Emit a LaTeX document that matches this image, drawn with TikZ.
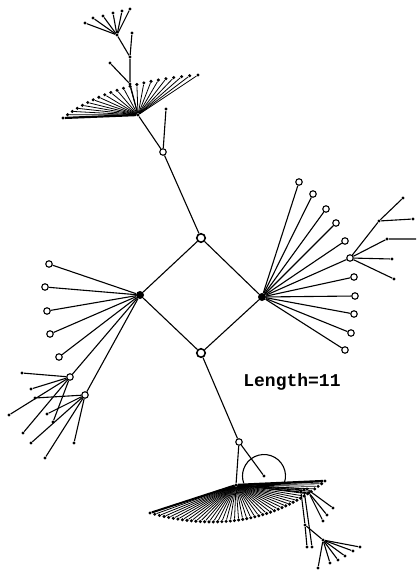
\documentclass[tikz,border=0pt]{standalone}
\usepackage{fontspec}
\setmonofont{Liberation Mono}
\tikzset{
  edge/.style={line width=1.1pt},
  fan/.style={line width=.8pt},
  leaf/.style={circle,fill,inner sep=0pt,minimum size=3.4pt},
  ring/.style={circle,draw,fill=white,line width=1.1pt,inner sep=0pt,minimum size=6.5pt,
    path picture={\fill (path picture bounding box.center) circle (1.2pt);}},
  bigring/.style={ring,minimum size=8.5pt,line width=1.6pt},
  hub/.style={circle,fill,inner sep=0pt,minimum size=8pt},
}

\begin{document}
\begin{tikzpicture}[x=1pt,y=-1pt]
  \useasboundingbox (0,0) rectangle (416,570);

  % square in the middle
  \node[bigring] (top) at (201,238) {};
  \node[bigring] (bot) at (201,353) {};
  \node[hub] (lh) at (140,295) {};
  \node[hub] (rh) at (262,297) {};
  \draw[edge] (top) -- (lh) -- (bot) -- (rh) -- (top);

  % upper tree
  \node[ring] (c1) at (163,152) {};
  \node[leaf] (h1) at (138,115) {};
  \node[leaf] (c1a) at (166,109) {};
  \draw[edge] (top) -- (c1) -- (h1);
  \draw[edge] (c1) -- (c1a);
  \foreach \i in {0,...,21}{
    \pgfmathsetmacro\t{\i/21}
    \pgfmathsetmacro\px{(1-\t)^2*63+2*(1-\t)*\t*110+\t^2*198}
    \pgfmathsetmacro\py{(1-\t)^2*118+2*(1-\t)*\t*82+\t^2*75}
    \node[leaf] (ta\i) at (\px,\py) {};
    \draw[fan] (h1) -- (ta\i);
  }
  \draw[line width=2.2pt] (h1) -- (ta0);
  \node[leaf] (s1) at (130,84) {};
  \node[leaf] (s1a) at (110,63) {};
  \node[leaf] (s2) at (130,57) {};
  \node[leaf] (s2a) at (132,33) {};
  \node[leaf] (h2) at (117,35) {};
  \draw[edge] (h1) -- (s1) -- (s2) -- (h2);
  \draw[edge] (s1) -- (s1a);
  \draw[edge] (s2) -- (s2a);
  \foreach \x/\y [count=\k] in {85/23,93/18,103/16,113/13,122/11,130/9}{
    \node[leaf] (tb\k) at (\x,\y) {};
    \draw[edge] (h2) -- (tb\k);
  }

  % right hub
  \foreach \x/\y [count=\k] in {299/182,313/194,326/209,336/223,345/241,
      354/277,355/296,354/314,351/333,345/350}{
    \node[ring] (rr\k) at (\x,\y) {};
    \draw[edge] (rh) -- (rr\k);
  }
  \node[ring] (rs) at (350,258) {};
  \node[leaf] (n1) at (379,221) {};
  \node[leaf] (n2) at (387,239) {};
  \node[leaf] (n3) at (392,259) {};
  \node[leaf] (n4) at (394,279) {};
  \node[leaf] (n1a) at (403,198) {};
  \node[leaf] (n1b) at (413,219) {};
  \coordinate (n2a) at (416,239);
  \draw[edge] (rh) -- (rs);
  \draw[edge] (rs) -- (n1) -- (n1a);
  \draw[edge] (n1) -- (n1b);
  \draw[edge] (rs) -- (n2) -- (n2a);
  \draw[edge] (rs) -- (n3);
  \draw[edge] (rs) -- (n4);

  % left hub
  \foreach \x/\y [count=\k] in {49/264,45/287,47/311,50/334,59/357}{
    \node[ring] (lr\k) at (\x,\y) {};
    \draw[edge] (lh) -- (lr\k);
  }
  \node[ring] (la) at (70,377) {};
  \node[ring] (lb) at (85,395) {};
  \draw[edge] (lh) -- (la);
  \draw[edge] (lh) -- (lb);
  \foreach \x/\y [count=\k] in {22/373,31/389,9/415,53/422,23/433}{
    \node[leaf] (la\k) at (\x,\y) {};
    \draw[edge] (la) -- (la\k);
  }
  \foreach \x/\y [count=\k] in {35/398,47/414,31/443,74/443,45/458}{
    \node[leaf] (lb\k) at (\x,\y) {};
    \draw[edge] (lb) -- (lb\k);
  }

  % lower tree
  \node[ring] (c2) at (239,442) {};
  \node[leaf] (h3) at (236,485) {};
  \node[leaf] (dd) at (264,476) {};
  \draw[edge] (bot) -- (c2) -- (h3);
  \draw[edge] (c2) -- (dd);
  \draw[edge] ([shift={(-19:21.5pt)}]dd.center) arc[start angle=-19,end angle=199,radius=21.5pt];
  \foreach \i in {0,...,43}{
    \pgfmathsetmacro\t{\i/43}
    \pgfmathsetmacro\px{(1-\t)^2*150+2*(1-\t)*\t*252+\t^2*325}
    \pgfmathsetmacro\py{(1-\t)^2*513+2*(1-\t)*\t*541+\t^2*481}
    \node[leaf] (ba\i) at (\px,\py) {};
    \draw[fan] (h3) -- (ba\i);
  }
  \draw[line width=2.4pt] (h3) -- (ba43);
  \draw[line width=2pt] (h3) -- (ba0);

  % chains below the lower fan
  \node[leaf] (q1) at (301,492) {};
  \node[leaf] (q2) at (304,490) {};
  \node[leaf] (q3) at (307,489) {};
  \node[leaf] (q4) at (309,493) {};
  \node[leaf] (p1) at (305,525) {};
  \node[leaf] (p1a) at (307,547) {};
  \node[leaf] (q2a) at (312,547) {};
  \node[leaf] (q3a) at (333,508) {};
  \node[leaf] (q4a) at (327,515) {};
  \node[leaf] (q4b) at (323,521) {};
  \node[leaf] (p2) at (323,540) {};
  \foreach \q in {q1,q2,q3,q4}{
    \draw[fan] (h3) -- (\q);
  }
  \draw[edge] (q1) -- (p1) -- (p1a);
  \draw[edge] (q2) -- (q2a);
  \draw[edge] (q3) -- (q3a);
  \draw[edge] (q4) -- (q4a);
  \draw[edge] (q4) -- (q4b);
  \draw[edge] (p1) -- (p2);
  \foreach \x/\y [count=\k] in {360/547,353/551,345/556,338/560,330/563,318/568}{
    \node[leaf] (pp\k) at (\x,\y) {};
    \draw[edge] (p2) -- (pp\k);
  }

  \node[font=\ttfamily\bfseries\fontsize{18}{18}\selectfont] (len) at (292,382) {Length=11};
\end{tikzpicture}
\end{document}
